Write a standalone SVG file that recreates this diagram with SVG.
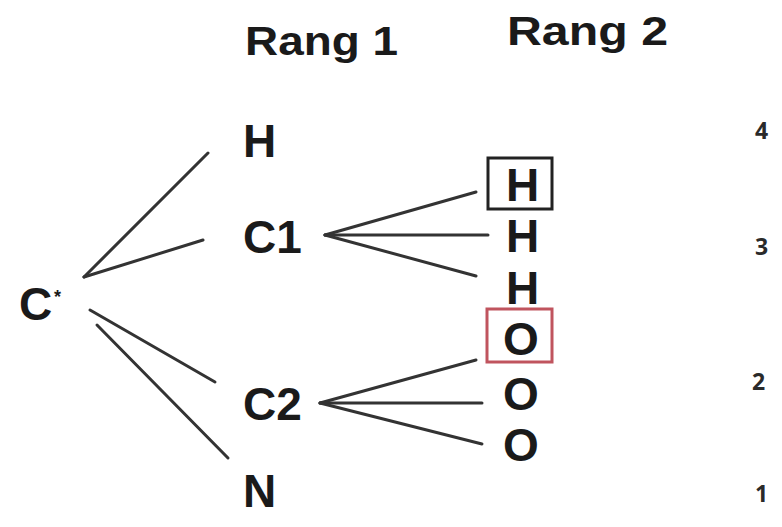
<svg xmlns="http://www.w3.org/2000/svg" width="782" height="527" viewBox="0 0 782 527">
<style>
.t{font-family:"Liberation Sans",Arial,sans-serif;font-weight:bold;fill:#1a1a1a}
.big{font-size:46px}
.hd{font-size:40px}
.num{font-family:"Open Sans","DejaVu Sans",sans-serif;font-weight:bold;font-size:23px;fill:#2a2a2a}
.ln{stroke:#333;stroke-width:3;fill:none;stroke-linecap:round}
</style>
<rect width="782" height="527" fill="#fff"/>
<g id="headers">
<text class="t hd" x="245" y="55" textLength="153" lengthAdjust="spacingAndGlyphs">Rang 1</text>
<text class="t hd" x="507" y="45" textLength="161" lengthAdjust="spacingAndGlyphs">Rang 2</text>
</g>
<g id="connectors">
<line class="ln" x1="84" y1="277" x2="208" y2="153"/>
<line class="ln" x1="84" y1="277" x2="203" y2="240"/>
<line class="ln" x1="90" y1="310" x2="215" y2="382"/>
<line class="ln" x1="97" y1="325" x2="228" y2="458"/>
<line class="ln" x1="325" y1="235" x2="476" y2="192"/>
<line class="ln" x1="325" y1="235" x2="488" y2="235"/>
<line class="ln" x1="325" y1="235" x2="476" y2="276"/>
<line class="ln" x1="320" y1="403" x2="476" y2="360"/>
<line class="ln" x1="320" y1="403" x2="482" y2="403"/>
<line class="ln" x1="320" y1="403" x2="482" y2="444"/>
</g>
<g id="Cstar"><text class="t big" x="19" y="320">C</text><text class="t" style="font-size:18px" x="54" y="303">*</text></g>
<g id="n-H"><text class="t big" x="243" y="157">H</text></g>
<g id="n-C1"><text class="t big" x="243" y="253">C1</text></g>
<g id="n-C2"><text class="t big" x="243" y="420">C2</text></g>
<g id="n-N"><text class="t big" x="243" y="507">N</text></g>
<g id="r2-H1"><rect x="488" y="158" width="64" height="51" fill="none" stroke="#222" stroke-width="3"/><text class="t big" x="506" y="201">H</text></g>
<g id="r2-H2"><text class="t big" x="506" y="252">H</text></g>
<g id="r2-H3"><text class="t big" x="506" y="304">H</text></g>
<g id="r2-O1"><rect x="487" y="309" width="65" height="53" fill="none" stroke="#c0545e" stroke-width="3"/><text class="t big" x="503" y="355">O</text></g>
<g id="r2-O2"><text class="t big" x="503" y="410">O</text></g>
<g id="r2-O3"><text class="t big" x="503" y="461">O</text></g>
<g id="ranks">
<text class="num" x="755" y="139">4</text>
<text class="num" x="755" y="255">3</text>
<text class="num" x="752" y="390">2</text>
<text class="num" x="755" y="502">1</text>
</g>
</svg>
